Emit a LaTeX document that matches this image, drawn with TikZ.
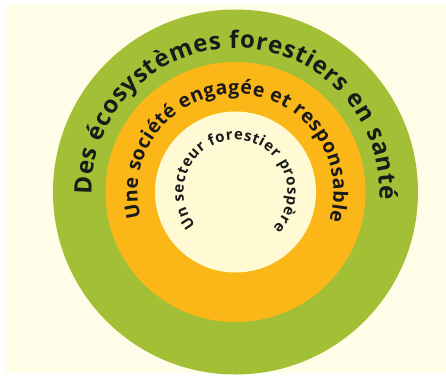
\documentclass[tikz,border=0pt]{standalone}
\usepackage{fontspec}
\setmainfont{Open Sans}
\usetikzlibrary{decorations.text,calc}
\definecolor{bgcream}{HTML}{FFFCE8}
\definecolor{ringgreen}{HTML}{A2BF36}
\definecolor{ringorange}{HTML}{FBB618}
\definecolor{corecream}{HTML}{FFFAD4}
\definecolor{textdark}{HTML}{1A1A1A}
\tikzset{
  ringtext/.style n args={2}{decorate, decoration={text along path, text align=fit to path,
      text={|\fontsize{#1}{#1}\selectfont\bfseries\color{textdark}|#2}}}
}
\begin{document}
\begin{tikzpicture}[x=1pt,y=1pt]
\useasboundingbox (0,0) rectangle (446,376);
\fill[white] (0,0) rectangle (446,376);
\fill[bgcream] (5,3) rectangle (446,371);
\coordinate (c) at (235.5,184);
\fill[ringgreen] (c) circle (182.5);
\fill[ringorange] (c) circle (130);
\fill[corecream] (c) circle (80.5);
\path[ringtext={24}{Des écosystèmes forestiers en santé}]
  ($(c)+(181:144)$) arc[start angle=181, end angle=-3, radius=144];
\path[ringtext={19.5}{Une société engagée et responsable}]
  ($(c)+(195:98)$) arc[start angle=195, end angle=-17, radius=98];
\path[ringtext={15}{Un secteur forestier prospère}]
  ($(c)+(220:52)$) arc[start angle=220, end angle=-44, radius=52];
\end{tikzpicture}
\end{document}
